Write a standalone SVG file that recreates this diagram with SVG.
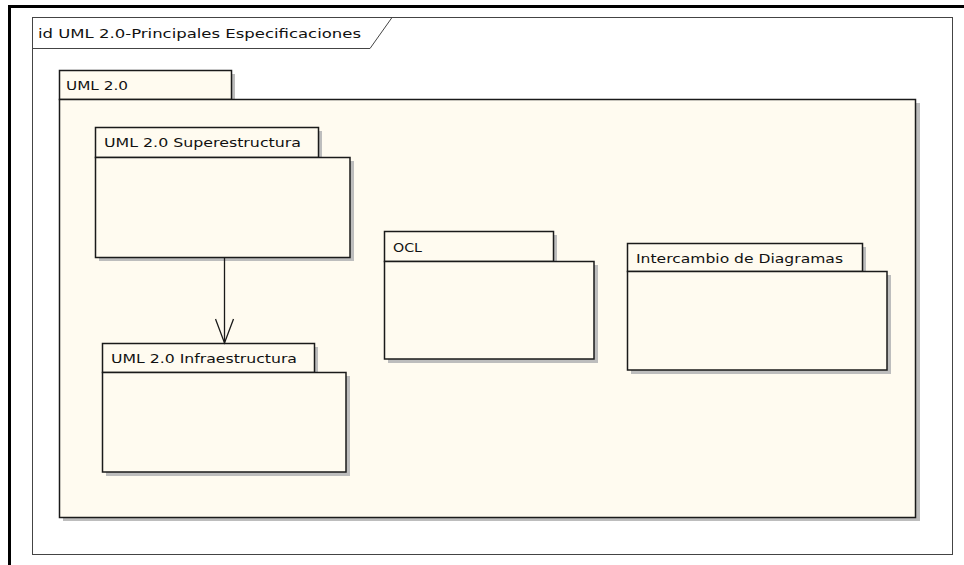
<svg xmlns="http://www.w3.org/2000/svg" width="964" height="565" viewBox="0 0 964 565">
  <style>
    .pkg { fill: #FFFBF0; stroke: #1a1a1a; stroke-width: 1.5; }
    .shadow { fill: #BDBDBD; }
    .lbl { font-family: "DejaVu Sans", "Liberation Sans", sans-serif; font-size: 12.5px; fill: #111; }
    .edge { fill: none; stroke: #1a1a1a; stroke-width: 1.3; }
  </style>
  <defs>
    <!-- open "V" arrowhead for dependencies, tip at the line end -->
    <marker id="open" viewBox="0 0 28 20" refX="26" refY="10" markerWidth="28" markerHeight="20" markerUnits="userSpaceOnUse" orient="auto">
      <path d="M2,1 L26,10 L2,19" fill="none" stroke="#1a1a1a" stroke-width="1.3"/>
    </marker>
  </defs>

  <rect width="964" height="565" fill="#ffffff"/>
  <!-- page border -->
  <path d="M9.5,565 V6.5 H964" fill="none" stroke="#000" stroke-width="3"/>

  <!-- diagram frame -->
  <g id="frame">
    <rect x="32.5" y="17.5" width="920" height="537" fill="#ffffff" stroke="#444" stroke-width="1"/>
    <path d="M32.5,48.5 H370 L392,17.5" fill="none" stroke="#444" stroke-width="1"/>
    <text class="lbl" x="38" y="38" textLength="323" lengthAdjust="spacingAndGlyphs" font-size="13.5">id UML 2.0-Principales Especificaciones</text>
  </g>

  <!-- container package -->
  <g id="uml20">
    <rect class="shadow" x="63" y="74" width="172" height="29"/>
    <rect class="shadow" x="63" y="103" width="857" height="418"/>
    <rect class="pkg" x="59.5" y="70.5" width="172" height="29"/>
    <rect class="pkg" x="59.5" y="99.5" width="856" height="418"/>
    <text class="lbl" x="66" y="90" textLength="62" lengthAdjust="spacingAndGlyphs">UML 2.0</text>
  </g>

  <g id="superestructura">
    <rect class="shadow" x="99" y="131" width="223" height="30"/>
    <rect class="shadow" x="99" y="161" width="255" height="100"/>
    <rect class="pkg" x="95.5" y="127.5" width="223" height="30"/>
    <rect class="pkg" x="95.5" y="157.5" width="254.5" height="100"/>
    <text class="lbl" x="104" y="147" textLength="197" lengthAdjust="spacingAndGlyphs">UML 2.0 Superestructura</text>
  </g>

  <g id="infraestructura">
    <rect class="shadow" x="106" y="347" width="212" height="29"/>
    <rect class="shadow" x="106" y="376" width="244" height="100"/>
    <rect class="pkg" x="102.5" y="343.5" width="212" height="29"/>
    <rect class="pkg" x="102.5" y="372.5" width="243.5" height="99.5"/>
    <text class="lbl" x="111" y="363" textLength="186" lengthAdjust="spacingAndGlyphs">UML 2.0 Infraestructura</text>
  </g>

  <g id="ocl">
    <rect class="shadow" x="388" y="235" width="169" height="30"/>
    <rect class="shadow" x="388" y="265" width="210" height="98"/>
    <rect class="pkg" x="384.5" y="231.5" width="169" height="30"/>
    <rect class="pkg" x="384.5" y="261.5" width="209.5" height="97.5"/>
    <text class="lbl" x="393" y="252" textLength="29" lengthAdjust="spacingAndGlyphs">OCL</text>
  </g>

  <g id="intercambio">
    <rect class="shadow" x="631" y="247" width="235" height="28"/>
    <rect class="shadow" x="631" y="275" width="260" height="99"/>
    <rect class="pkg" x="627.5" y="243.5" width="235" height="28"/>
    <rect class="pkg" x="627.5" y="271.5" width="259.5" height="98.5"/>
    <text class="lbl" x="636" y="263" textLength="207" lengthAdjust="spacingAndGlyphs">Intercambio de Diagramas</text>
  </g>

  <!-- dependencies -->
  <g id="connectors">
    <path class="edge" d="M224.5,258 V343" marker-end="url(#open)"/>
  </g>
</svg>
